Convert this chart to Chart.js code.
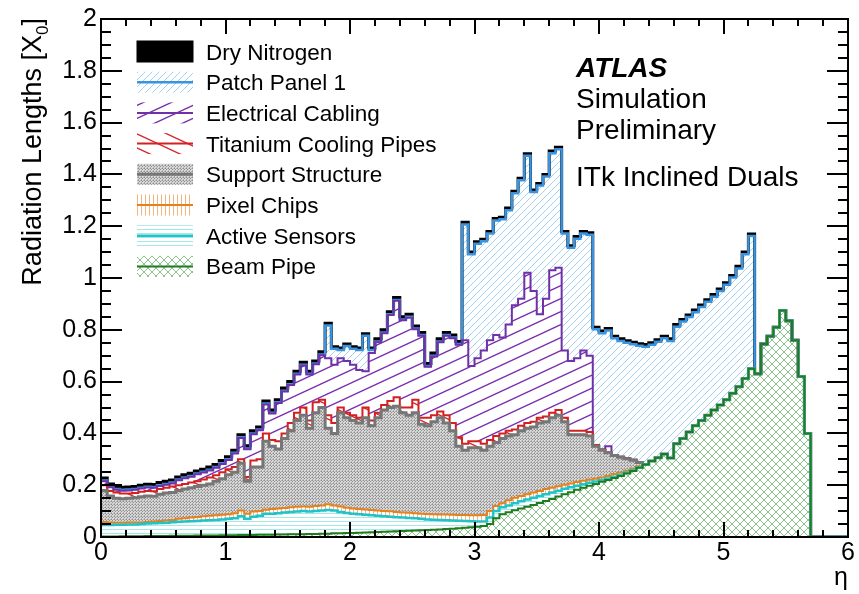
<!DOCTYPE html>
<html lang="en">
<head>
<meta charset="UTF-8" />
<title>ITk Inclined Duals - Radiation Lengths</title>
<style>
  html, body { margin: 0; padding: 0; background: #fff; }
  #wrap { width: 859px; height: 594px; }
</style>
</head>
<body>
<div id="wrap"><canvas id="chart" width="859" height="594"></canvas></div>
<script src="https://cdn.jsdelivr.net/npm/chart.js"></script>
<script>
// eta binning of the histograms
const etaMin = 0, etaMax = 6, binWidth = 0.05;

// stacked totals (top edge of each layer), one value per eta bin
const beamPipe = [
  0.002,0.002,0.002,0.003,0.003,0.003,0.003,0.004,0.004,0.004,0.004,0.005,0.005,0.005,0.005,0.006,0.006,0.006,0.006,0.007,
  0.007,0.007,0.008,0.008,0.008,0.009,0.009,0.009,0.010,0.010,0.011,0.011,0.011,0.012,0.012,0.013,0.013,0.014,0.014,0.015,
  0.015,0.016,0.017,0.018,0.019,0.020,0.021,0.022,0.023,0.024,0.025,0.026,0.027,0.028,0.029,0.031,0.032,0.034,0.036,0.038,
  0.040,0.042,0.050,0.072,0.088,0.096,0.103,0.110,0.117,0.124,0.131,0.139,0.147,0.156,0.165,0.173,0.182,0.190,0.198,0.205,
  0.213,0.220,0.228,0.236,0.245,0.255,0.267,0.280,0.293,0.306,0.320,0.305,0.360,0.380,0.405,0.430,0.450,0.470,0.490,0.510,
  0.530,0.555,0.580,0.612,0.650,0.630,0.745,0.775,0.810,0.875,0.835,0.760,0.620,0.400,0,0,0,0,0,0
];
const activeSensors = [
  0.046,0.046,0.047,0.047,0.048,0.048,0.050,0.052,0.053,0.054,0.055,0.057,0.059,0.060,0.061,0.062,0.064,0.065,0.066,0.068,
  0.070,0.072,0.080,0.070,0.078,0.082,0.090,0.090,0.092,0.095,0.097,0.098,0.100,0.098,0.100,0.102,0.104,0.102,0.097,0.093,
  0.090,0.088,0.086,0.084,0.082,0.080,0.078,0.076,0.075,0.073,0.072,0.070,0.068,0.067,0.066,0.065,0.064,0.063,0.062,0.061,
  0.060,0.060,0.075,0.100,0.115,0.122,0.130,0.138,0.145,0.152,0.158,0.165,0.172,0.179,0.186,0.192,0.198,0.204,0.209,0.214,
  0.220,0.226,0.233,0.240,0.249,0.258,0.269,0.280,0.293,0.306,0.320,0.305,0.360,0.380,0.405,0.430,0.450,0.470,0.490,0.510,
  0.530,0.555,0.580,0.612,0.650,0.630,0.745,0.775,0.810,0.875,0.835,0.760,0.620,0.400,0,0,0,0,0,0
];
const pixelChips = [
  0.058,0.056,0.055,0.055,0.056,0.056,0.056,0.058,0.060,0.062,0.064,0.066,0.070,0.072,0.075,0.077,0.080,0.082,0.084,0.086,
  0.088,0.092,0.102,0.090,0.098,0.100,0.105,0.108,0.110,0.112,0.115,0.117,0.118,0.117,0.120,0.122,0.126,0.122,0.118,0.113,
  0.110,0.108,0.106,0.104,0.102,0.100,0.099,0.097,0.095,0.094,0.092,0.090,0.089,0.088,0.087,0.087,0.086,0.085,0.085,0.084,
  0.084,0.085,0.100,0.120,0.130,0.142,0.152,0.158,0.165,0.172,0.178,0.185,0.190,0.196,0.202,0.207,0.212,0.217,0.221,0.225,
  0.230,0.236,0.243,0.249,0.256,0.264,0.273,0.280,0.293,0.306,0.320,0.305,0.360,0.380,0.405,0.430,0.450,0.470,0.490,0.510,
  0.530,0.555,0.580,0.612,0.650,0.630,0.745,0.775,0.810,0.875,0.835,0.760,0.620,0.400,0,0,0,0,0,0
];
const supportStructure = [
  0.180,0.158,0.150,0.148,0.150,0.152,0.155,0.158,0.157,0.165,0.170,0.172,0.180,0.185,0.190,0.195,0.200,0.205,0.215,0.225,
  0.240,0.250,0.285,0.215,0.270,0.270,0.370,0.350,0.340,0.380,0.410,0.450,0.470,0.420,0.480,0.500,0.420,0.400,0.480,0.460,
  0.450,0.440,0.460,0.430,0.460,0.490,0.500,0.505,0.480,0.470,0.480,0.435,0.430,0.445,0.460,0.440,0.410,0.350,0.335,0.345,
  0.345,0.335,0.350,0.365,0.380,0.390,0.395,0.410,0.420,0.425,0.440,0.445,0.460,0.470,0.445,0.395,0.395,0.395,0.390,0.350,
  0.335,0.325,0.315,0.308,0.302,0.296,0.288,0.280,0.293,0.306,0.320,0.305,0.360,0.380,0.405,0.430,0.450,0.470,0.490,0.510,
  0.530,0.555,0.580,0.612,0.650,0.630,0.745,0.775,0.810,0.875,0.835,0.760,0.620,0.400,0,0,0,0,0,0
];
const titaniumCoolingPipes = [
  0.200,0.178,0.172,0.168,0.168,0.170,0.175,0.178,0.177,0.185,0.190,0.195,0.200,0.205,0.210,0.215,0.222,0.230,0.238,0.250,
  0.262,0.270,0.300,0.232,0.295,0.300,0.400,0.375,0.370,0.400,0.440,0.480,0.500,0.450,0.520,0.530,0.470,0.440,0.500,0.480,
  0.470,0.460,0.500,0.450,0.480,0.510,0.525,0.540,0.500,0.500,0.530,0.460,0.460,0.470,0.485,0.470,0.440,0.385,0.360,0.370,
  0.370,0.360,0.375,0.390,0.400,0.410,0.415,0.430,0.440,0.445,0.460,0.465,0.480,0.490,0.460,0.410,0.410,0.410,0.405,0.355,
  0.338,0.327,0.317,0.310,0.304,0.298,0.290,0.280,0.293,0.306,0.320,0.305,0.360,0.380,0.405,0.430,0.450,0.470,0.490,0.510,
  0.530,0.555,0.580,0.612,0.650,0.630,0.745,0.775,0.810,0.875,0.835,0.760,0.620,0.400,0,0,0,0,0,0
];
const electricalCabling = [
  0.215,0.192,0.182,0.179,0.180,0.182,0.187,0.191,0.190,0.197,0.202,0.207,0.219,0.227,0.233,0.242,0.249,0.257,0.267,0.282,
  0.297,0.322,0.382,0.339,0.397,0.412,0.512,0.477,0.517,0.562,0.587,0.627,0.662,0.627,0.667,0.702,0.690,0.665,0.690,0.680,
  0.665,0.645,0.640,0.710,0.752,0.787,0.857,0.912,0.837,0.847,0.802,0.777,0.657,0.697,0.752,0.777,0.767,0.742,0.760,0.660,
  0.690,0.720,0.760,0.780,0.770,0.820,0.895,0.920,1.020,0.950,0.860,0.920,1.030,1.040,0.720,0.680,0.690,0.720,0.700,0.355,
  0.338,0.350,0.317,0.310,0.304,0.298,0.290,0.280,0.293,0.306,0.320,0.305,0.360,0.380,0.405,0.430,0.450,0.470,0.490,0.510,
  0.530,0.555,0.580,0.612,0.650,0.630,0.745,0.775,0.810,0.875,0.835,0.760,0.620,0.400,0,0,0,0,0,0
];
const patchPanel1 = [
  0.218,0.195,0.185,0.182,0.183,0.185,0.190,0.194,0.193,0.200,0.205,0.210,0.222,0.230,0.236,0.245,0.252,0.260,0.270,0.285,
  0.300,0.325,0.385,0.342,0.400,0.415,0.515,0.480,0.520,0.565,0.590,0.630,0.665,0.630,0.670,0.705,0.817,0.727,0.722,0.737,
  0.727,0.722,0.777,0.722,0.755,0.790,0.860,0.915,0.840,0.850,0.805,0.780,0.660,0.700,0.755,0.780,0.770,0.745,1.207,1.092,
  1.132,1.142,1.172,1.222,1.227,1.262,1.327,1.377,1.472,1.332,1.357,1.392,1.482,1.497,1.172,1.117,1.152,1.172,1.167,0.802,
  0.787,0.797,0.767,0.757,0.750,0.744,0.738,0.735,0.742,0.754,0.767,0.757,0.812,0.832,0.849,0.868,0.888,0.908,0.928,0.950,
  0.974,1.002,1.037,1.092,1.162,0.630,0.745,0.775,0.810,0.875,0.835,0.760,0.620,0.400,0,0,0,0,0,0
];
const dryNitrogen = [
  0.228,0.205,0.195,0.192,0.193,0.195,0.200,0.204,0.203,0.210,0.215,0.220,0.232,0.240,0.246,0.255,0.262,0.270,0.280,0.295,
  0.310,0.335,0.395,0.352,0.410,0.425,0.525,0.490,0.530,0.575,0.600,0.640,0.675,0.640,0.680,0.715,0.825,0.735,0.730,0.745,
  0.735,0.730,0.785,0.730,0.765,0.800,0.870,0.925,0.850,0.860,0.815,0.790,0.670,0.710,0.765,0.790,0.780,0.755,1.215,1.100,
  1.140,1.150,1.180,1.230,1.235,1.270,1.335,1.385,1.480,1.340,1.365,1.400,1.490,1.505,1.180,1.125,1.160,1.180,1.175,0.810,
  0.795,0.805,0.775,0.765,0.758,0.752,0.746,0.743,0.750,0.762,0.775,0.765,0.820,0.840,0.857,0.876,0.896,0.916,0.936,0.958,
  0.982,1.010,1.045,1.100,1.170,0.630,0.745,0.775,0.810,0.875,0.835,0.760,0.620,0.400,0,0,0,0,0,0
];

const FONT = "'Liberation Sans', Arial, Helvetica, sans-serif";
const canvas = document.getElementById('chart');
const ctx = canvas.getContext('2d');

// hatch patterns (ROOT fill styles)
function tile(w, h, draw) {
  const c = document.createElement('canvas');
  c.width = w; c.height = h;
  draw(c.getContext('2d'), w, h);
  return ctx.createPattern(c, 'repeat');
}
function strokeSegs(g, color, width, segs) {
  g.strokeStyle = color; g.lineWidth = width; g.beginPath();
  segs.forEach(s => { g.moveTo(s[0], s[1]); g.lineTo(s[2], s[3]); });
  g.stroke();
}
const patchFill = tile(7, 7, (g, w, h) => strokeSegs(g, '#a3cff0', 1, [[-w, h, 0, 0], [0, h, w, 0], [w, h, 2 * w, 0]]));
const cablingFill = tile(28, 13, (g, w, h) => strokeSegs(g, '#7a2fb0', 1.4, [[0, 0, w, -h], [0, h, w, 0], [0, 2 * h, w, h]]));
const pipesFill = tile(30, 14, (g, w, h) => strokeSegs(g, '#d42a2a', 1.4, [[0, -h, w, 0], [0, 0, w, h], [0, h, w, 2 * h]]));
const supportFill = tile(3, 3, (g) => {
  g.fillStyle = '#d8d8d8'; g.fillRect(0, 0, 3, 3);
  g.fillStyle = '#8e8e8e'; g.fillRect(0, 0, 1, 1); g.fillRect(1, 1, 1, 1);
  g.fillStyle = '#b0b0b0'; g.fillRect(2, 0, 1, 1); g.fillRect(0, 2, 1, 1);
});
const chipsFill = tile(4, 4, (g) => { g.fillStyle = '#f3b584'; g.fillRect(1, 0, 1, 4); });
const sensorsFill = tile(4, 4, (g) => { g.fillStyle = '#a3e7e7'; g.fillRect(0, 1, 4, 1); });
const beamFill = tile(8, 8, (g, w, h) => strokeSegs(g, '#8cc28c', 1, [
  [-w, h, 0, 0], [0, h, w, 0], [w, h, 2 * w, 0],
  [-w, 0, 0, h], [0, 0, w, h], [w, 0, 2 * w, h]
]));

// bottom layer first: drawn last, so its outline wins where layers coincide
const layers = [
  { label: 'Beam Pipe', values: beamPipe, line: '#1e7b1e', width: 2, fill: beamFill },
  { label: 'Active Sensors', values: activeSensors, line: '#22c3c8', width: 2.5, fill: sensorsFill },
  { label: 'Pixel Chips', values: pixelChips, line: '#e3821f', width: 2, fill: chipsFill },
  { label: 'Support Structure', values: supportStructure, line: '#767676', width: 3, fill: supportFill },
  { label: 'Titanium Cooling Pipes', values: titaniumCoolingPipes, line: '#d42020', width: 2, fill: pipesFill },
  { label: 'Electrical Cabling', values: electricalCabling, line: '#7030a8', width: 2, fill: cablingFill },
  { label: 'Patch Panel 1', values: patchPanel1, line: '#3a93df', width: 2.5, fill: patchFill },
  { label: 'Dry Nitrogen', values: dryNitrogen, line: '#000000', width: 3, fill: '#000000' }
];

function toSteps(values) {
  const pts = values.map((v, i) => ({ x: etaMin + i * binWidth, y: v }));
  pts.push({ x: etaMax, y: values[values.length - 1] });
  return pts;
}

const datasets = layers.map((l, i) => ({
  label: l.label,
  data: toSteps(l.values),
  borderColor: l.line,
  borderWidth: l.width,
  backgroundColor: l.fill,
  fill: i === 0 ? 'origin' : '-1',
  stepped: true,
  pointRadius: 0,
  tension: 0,
  borderJoinStyle: 'miter'
}));

// ROOT style frame, inward ticks, titles, legend and labels
const rootStyle = {
  id: 'rootStyle',
  afterDraw(chart) {
    const g = chart.ctx;
    const a = chart.chartArea;
    const xs = chart.scales.x, ys = chart.scales.y;
    g.save();
    g.strokeStyle = '#000';
    g.lineWidth = 2;
    g.strokeRect(a.left, a.top, a.right - a.left, a.bottom - a.top);
    g.beginPath();
    for (let k = 0; k <= 30; k++) {
      const px = Math.round(xs.getPixelForValue(k / 5));
      const len = k % 5 === 0 ? 15 : 7;
      g.moveTo(px, a.bottom); g.lineTo(px, a.bottom - len);
      g.moveTo(px, a.top); g.lineTo(px, a.top + len);
    }
    for (let k = 0; k <= 40; k++) {
      const py = Math.round(ys.getPixelForValue(k / 20));
      const len = k % 4 === 0 ? 21 : 10;
      g.moveTo(a.left, py); g.lineTo(a.left + len, py);
      g.moveTo(a.right, py); g.lineTo(a.right - len, py);
    }
    g.stroke();

    // axis titles
    g.fillStyle = '#000';
    g.textBaseline = 'alphabetic';
    g.font = '25px ' + FONT;
    g.textAlign = 'right';
    g.fillText('η', a.right, 585);

    g.save();
    g.translate(41, 0);
    g.rotate(-Math.PI / 2);
    g.textAlign = 'left';
    const big = '27px ' + FONT, small = '17px ' + FONT;
    g.font = big;
    const p1 = 'Radiation Lengths [X', p3 = ']';
    const w1 = g.measureText(p1).width, w3 = g.measureText(p3).width;
    g.font = small;
    const w2 = g.measureText('0').width;
    let x0 = -a.top + 1 - (w1 + w2 + w3);
    g.font = big; g.fillText(p1, x0, 0);
    g.font = small; g.fillText('0', x0 + w1, 7);
    g.font = big; g.fillText(p3, x0 + w1 + w2, 0);
    g.restore();

    // legend, top entry = last dataset
    g.textAlign = 'left';
    g.font = '22.5px ' + FONT;
    const ds = chart.data.datasets.slice().reverse();
    ds.forEach((d, i) => {
      const cy = 51.5 + i * 30.7;
      g.fillStyle = d.backgroundColor;
      g.fillRect(137, cy - 10.5, 56, 21);
      if (d.backgroundColor === '#000000') {
        g.lineWidth = 1; g.strokeStyle = '#000';
        g.strokeRect(137, cy - 10.5, 56, 21);
      } else {
        g.beginPath();
        g.strokeStyle = d.borderColor;
        g.lineWidth = d.borderWidth;
        g.moveTo(137, cy); g.lineTo(193, cy);
        g.stroke();
      }
      g.fillStyle = '#000';
      g.fillText(d.label, 206, cy + 8);
    });

    // ATLAS label
    g.font = 'italic bold 28px ' + FONT;
    g.fillText('ATLAS', 576, 77);
    g.font = '28px ' + FONT;
    g.fillText('Simulation', 576, 108);
    g.fillText('Preliminary', 576, 139);
    g.fillText('ITk Inclined Duals', 576, 186);
    g.restore();
  }
};

new Chart(ctx, {
  type: 'line',
  data: { datasets },
  options: {
    responsive: false,
    animation: false,
    events: [],
    layout: { padding: { top: 15, right: 11, left: 0, bottom: 0 } },
    plugins: {
      legend: { display: false },
      tooltip: { enabled: false },
      filler: { drawTime: 'beforeDatasetsDraw' }
    },
    scales: {
      x: {
        type: 'linear',
        min: etaMin,
        max: etaMax,
        grid: { display: false, drawTicks: false },
        border: { display: false },
        ticks: { stepSize: 1, padding: 1, color: '#000', font: { family: FONT, size: 25 } },
        afterFit: s => { s.height = 57; }
      },
      y: {
        min: 0,
        max: 2,
        grid: { display: false, drawTicks: false },
        border: { display: false },
        ticks: {
          stepSize: 0.2, padding: 4, color: '#000',
          font: { family: FONT, size: 25 },
          callback: v => String(Number(v.toFixed(1)))
        },
        afterFit: s => { s.width = 101; }
      }
    }
  },
  plugins: [rootStyle]
});
</script>
</body>
</html>
